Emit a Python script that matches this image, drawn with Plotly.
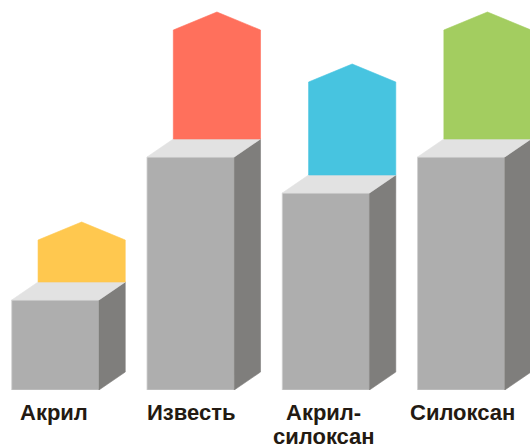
import plotly.graph_objects as go

categories = ["Акрил", "Известь", "Акрил-", "Силоксан"]
second_lines = ["", "", "силоксан", ""]
positions = [0, 1, 2, 3]
base_values = [90, 233, 197, 233]
top_values = [168, 378, 326, 378]
arrow_colors = ["#FFC84F", "#FF705C", "#47C4E0", "#A3CD60"]

FRONT = "#AEAEAE"
SIDE = "#7F7E7C"
TOP = "#E2E2E2"
EDGE = "#CFCFCF"
TEXT = "#231A12"
UNIT = 135.27
BAR_W = 87.2 / UNIT
DX = 26.3 / UNIT
DY = 18
ROOF = 18
LABEL_DX = [-1, 0, -2, 1]
LABEL_FONT = dict(family="Liberation Sans", size=22, color=TEXT, weight="bold")

fig = go.Figure()
fig.add_trace(go.Bar(x=positions, y=base_values, width=BAR_W,
                     marker=dict(color=FRONT, line=dict(color=EDGE, width=0.8)),
                     hoverinfo="skip", showlegend=False))


def poly(xs, ys, fill, line=None):
    fig.add_trace(go.Scatter(x=xs, y=ys, mode="lines", fill="toself", fillcolor=fill,
                             line=dict(color=line or fill, width=0.6),
                             hoverinfo="skip", showlegend=False))


for p, b, t, c in zip(positions, base_values, top_values, arrow_colors):
    l = p - BAR_W / 2
    r = p + BAR_W / 2
    poly([r, r + DX, r + DX, r, r], [0, DY, b + DY, b, 0], SIDE)
    poly([l, r, r + DX, l + DX, l], [b, b, b + DY, b + DY, b], TOP)
    poly([l + DX, r + DX, r + DX, p + DX, l + DX, l + DX],
         [b + DY, b + DY, t - ROOF, t, t - ROOF, b + DY], c)

for p, name, extra, shift in zip(positions, categories, second_lines, LABEL_DX):
    fig.add_annotation(x=p, xref="x", y=0, yref="paper", yanchor="top", text=name,
                       showarrow=False, font=LABEL_FONT, xshift=shift, yshift=-8)
    if extra:
        fig.add_annotation(x=p, xref="x", y=0, yref="paper", yanchor="top", text=extra,
                           showarrow=False, font=LABEL_FONT, xshift=shift, yshift=-32)

fig.update_layout(
    width=530, height=447,
    margin=dict(l=0, r=0, t=0, b=57, autoexpand=False),
    paper_bgcolor="white", plot_bgcolor="white", showlegend=False,
    xaxis=dict(range=[-55.35 / UNIT, (530 - 55.35) / UNIT], visible=False, fixedrange=True),
    yaxis=dict(range=[0, 390], visible=False, fixedrange=True),
)
fig.write_html("out.html", config={"displayModeBar": False},
               post_script="document.body.style.margin='0';")
